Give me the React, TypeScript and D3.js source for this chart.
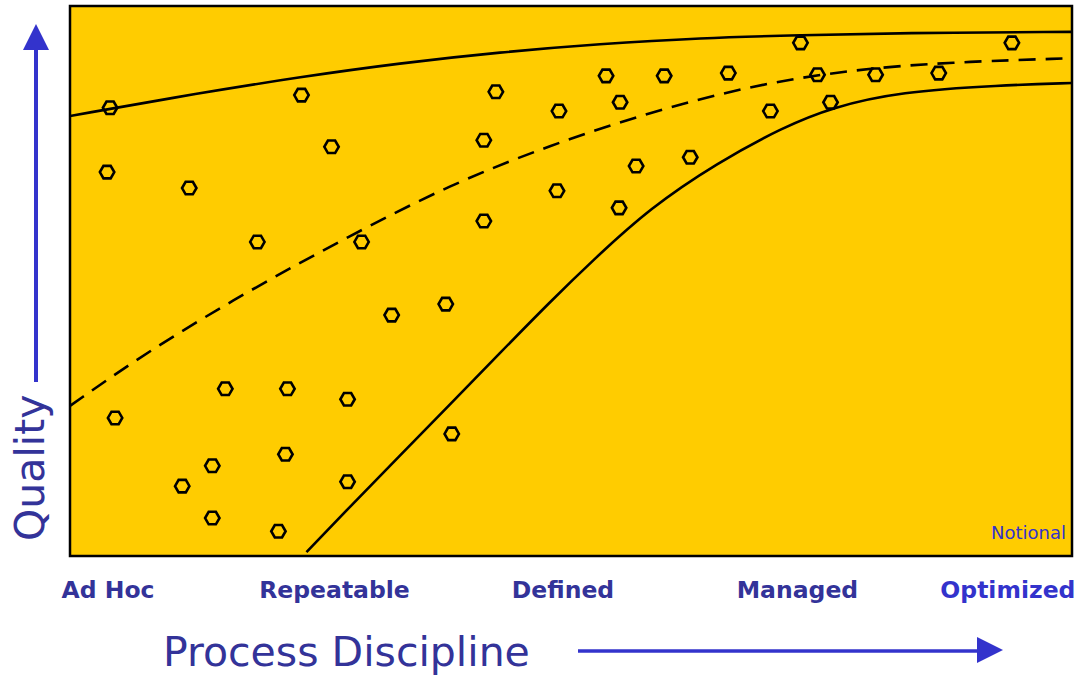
import React from 'react';
import * as d3 from 'd3';

// maturity levels along the x axis (0-100 discipline scale)
const levels = ['Ad Hoc', 'Repeatable', 'Defined', 'Managed', 'Optimized'];
const levelX = [3.8, 26.4, 49.2, 72.6, 93.6];

// envelope curves, [discipline, quality]
const upperCurve: [number, number][] = [
  [0, 80], [13, 84.2], [23, 87.1], [32.9, 89.6], [42.9, 91.6], [52.9, 93.1],
  [62.9, 94.2], [72.9, 94.7], [82.8, 95.1], [100, 95.3],
];
const meanCurve: [number, number][] = [
  [0, 27.3], [8, 37.5], [18, 48.4], [27.9, 58.2], [37.9, 67.5], [47.9, 74.7],
  [57.9, 80.7], [67.9, 85.5], [77.8, 88.4], [87.8, 89.8], [100, 90.5],
];
const lowerCurve: [number, number][] = [
  [23.6, 0.7], [27.9, 8.9], [32.9, 18.2], [37.9, 27.5], [42.9, 36.9], [47.9, 46.2],
  [52.2, 53.8], [57.9, 63.3], [64.6, 71.5], [71.2, 78.0], [76.1, 81.6],
  [82.8, 84.4], [92.8, 85.6], [100, 86.0],
];

// projects
const projX = [
  4.0, 3.7, 11.9, 18.7, 23.1, 26.1, 29.1, 32.1, 37.5, 41.3, 42.5, 41.3, 38.1,
  48.8, 48.6, 53.5, 54.9, 56.5, 54.8, 59.3, 61.9, 65.7, 69.9, 72.9, 74.6, 75.9,
  80.4, 86.7, 94.0, 4.5, 15.5, 21.7, 27.7, 11.2, 14.2, 14.2, 21.5, 27.7, 20.8,
];
const projY = [
  81.5, 69.8, 66.9, 57.1, 83.8, 74.4, 57.1, 43.8, 45.8, 75.6, 84.4, 60.9, 22.2,
  80.9, 66.4, 87.3, 82.5, 70.9, 63.3, 87.3, 72.5, 87.8, 80.9, 93.3, 87.5, 82.5,
  87.5, 87.8, 93.3, 25.1, 30.4, 30.4, 28.5, 12.7, 16.4, 6.9, 18.5, 13.5, 4.5,
];

const W = 1076;
const H = 677;
const plot = { left: 70, top: 6, right: 1072, bottom: 556 };
const navy = '#333399';
const blue = '#3333cc';
const font = '"DejaVu Sans", Verdana, sans-serif';

export default function App() {
  const x = d3.scaleLinear().domain([0, 100]).range([plot.left, plot.right]);
  const y = d3.scaleLinear().domain([0, 100]).range([plot.bottom, plot.top]);

  const line = d3.line<[number, number]>()
    .x(d => x(d[0]))
    .y(d => y(d[1]))
    .curve(d3.curveBasis);

  // flat-topped hexagon marker
  const r = 7.2;
  const hex = d3.range(6).map(i => {
    const a = (Math.PI / 3) * i;
    return `${(r * Math.cos(a)).toFixed(2)},${(r * Math.sin(a)).toFixed(2)}`;
  }).join(' ');

  return (
    <svg width={W} height={H} style={{ position: 'absolute', left: 0, top: 0, background: '#fff' }}>
      <defs>
        <clipPath id="plot-clip">
          <rect x={plot.left} y={plot.top} width={plot.right - plot.left} height={plot.bottom - plot.top} />
        </clipPath>
      </defs>

      <rect
        x={plot.left} y={plot.top}
        width={plot.right - plot.left} height={plot.bottom - plot.top}
        fill="#ffcc00"
      />

      <g clipPath="url(#plot-clip)" fill="none" stroke="#000" strokeWidth={2.6}>
        <path d={line(upperCurve) || ''} />
        <path d={line(meanCurve) || ''} strokeDasharray="17,10" />
        <path d={line(lowerCurve) || ''} />
      </g>

      <g fill="none" stroke="#000" strokeWidth={2.6}>
        {projX.map((v, i) => (
          <polygon key={i} points={hex} transform={`translate(${x(v)},${y(projY[i])})`} />
        ))}
      </g>

      <rect
        x={plot.left} y={plot.top}
        width={plot.right - plot.left} height={plot.bottom - plot.top}
        fill="none" stroke="#000" strokeWidth={2.5}
      />

      <text x={plot.right - 6} y={539} textAnchor="end" fontFamily={font} fontSize={18} fill={blue}>
        Notional
      </text>

      {levels.map((l, i) => (
        <text
          key={l}
          x={x(levelX[i])}
          y={598}
          textAnchor="middle"
          fontFamily={font}
          fontWeight="bold"
          fontSize={23.5}
          fill={i === levels.length - 1 ? blue : navy}
        >
          {l}
        </text>
      ))}

      {/* x axis title + arrow */}
      <text x={163} y={666} fontFamily={font} fontSize={41} fill={navy}>Process Discipline</text>
      <line x1={578} x2={980} y1={651} y2={651} stroke={blue} strokeWidth={3.5} />
      <polygon points="977,637 1003,650 977,663" fill={blue} />

      {/* y axis title + arrow */}
      <text transform="translate(44,541) rotate(-90)" fontFamily={font} fontSize={41} fill={navy}>Quality</text>
      <line x1={36} x2={36} y1={48} y2={382} stroke={blue} strokeWidth={4} />
      <polygon points="23,50 36,24 49,50" fill={blue} />
    </svg>
  );
}
